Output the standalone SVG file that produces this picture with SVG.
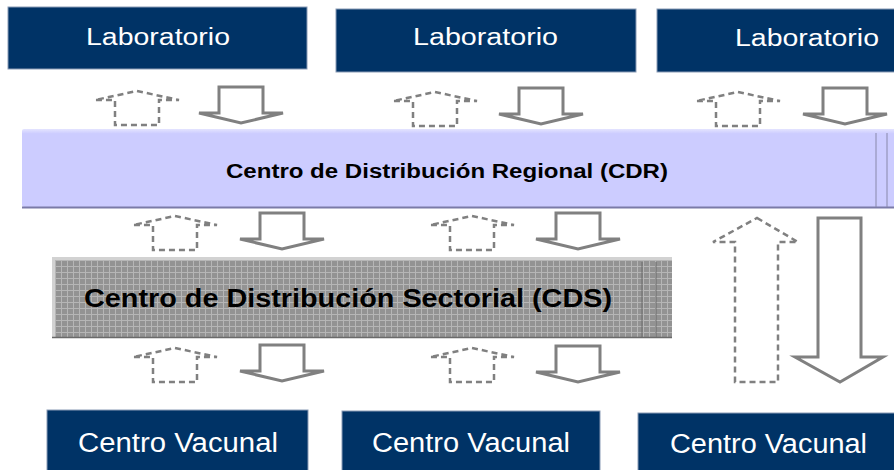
<svg xmlns="http://www.w3.org/2000/svg" width="894" height="470" viewBox="0 0 894 470">
<style>
.box{fill:#003366;stroke:#8a9bb5;stroke-width:1}
.lbl{fill:#ffffff;font-family:"Liberation Sans",Arial,sans-serif;font-size:23px}
.cv{fill:#ffffff;font-family:"Liberation Sans",Arial,sans-serif;font-size:27px}
.bold{fill:#000000;font-family:"Liberation Sans",Arial,sans-serif;font-weight:bold}
.dash{fill:none;stroke:#808080;stroke-width:2.5;stroke-dasharray:6 4}
.solid{fill:none;stroke:#808080;stroke-width:3}
</style>
<defs>
<pattern id="grid" width="6" height="6" patternUnits="userSpaceOnUse" x="55" y="260">
<rect width="6" height="6" fill="#939393"/>
<path d="M0 0.5H6M0.5 0V6" stroke="#b6b6b6" stroke-width="1"/>
</pattern>
<linearGradient id="cdrg" x1="0" y1="0" x2="0" y2="1">
<stop offset="0" stop-color="#e4e4ff"/>
<stop offset="0.06" stop-color="#ccccff"/>
<stop offset="1" stop-color="#ccccff"/>
</linearGradient>
<path id="up" d="M0 0 L42 9 L22 9 L22 34 L-22 34 L-22 9 L-42 9 Z"/>
<path id="down" d="M-22 0 L22 0 L22 26 L42 26 L0 36 L-42 26 L-22 26 Z"/>
</defs>

<g id="lab1"><rect class="box" x="8" y="7" width="299" height="62"/><text class="lbl" x="86" y="45" textLength="144" lengthAdjust="spacingAndGlyphs">Laboratorio</text></g>
<g id="lab2"><rect class="box" x="336" y="9" width="300" height="63"/><text class="lbl" x="413" y="45" textLength="145" lengthAdjust="spacingAndGlyphs">Laboratorio</text></g>
<g id="lab3"><rect class="box" x="657" y="9" width="240" height="63"/><text class="lbl" x="735" y="46" textLength="144" lengthAdjust="spacingAndGlyphs">Laboratorio</text></g>

<g id="cdr">
<rect x="22" y="129" width="875" height="78" rx="2" fill="url(#cdrg)"/>
<line x1="22" y1="207.5" x2="894" y2="207.5" stroke="#7a7aa8" stroke-width="2"/>
<line x1="876" y1="133" x2="876" y2="207" stroke="#8888aa" stroke-width="1"/>
<line x1="887" y1="133" x2="887" y2="207" stroke="#8888aa" stroke-width="1"/>
<text class="bold" x="226" y="178" font-size="20" textLength="442" lengthAdjust="spacingAndGlyphs">Centro de Distribución Regional (CDR)</text>
</g>

<g id="cds">
<rect x="52" y="257" width="620" height="81" fill="#d2d2d2"/>
<rect x="55" y="260" width="617" height="77" fill="url(#grid)"/>
<line x1="52" y1="337.5" x2="672" y2="337.5" stroke="#6a6a6a" stroke-width="1.5"/>
<line x1="642" y1="262" x2="642" y2="337" stroke="#6a6a6a" stroke-width="1"/>
<line x1="656" y1="262" x2="656" y2="337" stroke="#6a6a6a" stroke-width="1"/>
<text class="bold" x="84" y="307" font-size="25" textLength="528" lengthAdjust="spacingAndGlyphs">Centro de Distribución Sectorial (CDS)</text>
</g>

<g id="cv1"><rect class="box" x="47" y="410" width="261" height="64"/><text class="cv" x="78" y="452" textLength="200" lengthAdjust="spacingAndGlyphs">Centro Vacunal</text></g>
<g id="cv2"><rect class="box" x="342" y="411" width="258" height="63"/><text class="cv" x="372" y="452" textLength="198" lengthAdjust="spacingAndGlyphs">Centro Vacunal</text></g>
<g id="cv3"><rect class="box" x="638" y="413" width="260" height="61"/><text class="cv" x="670" y="453" textLength="197" lengthAdjust="spacingAndGlyphs">Centro Vacunal</text></g>

<g id="connectors">
<use href="#up" class="dash" x="137" y="91"/>
<use href="#down" class="solid" x="241" y="87"/>
<use href="#up" class="dash" x="435" y="92"/>
<use href="#down" class="solid" x="541" y="88"/>
<use href="#up" class="dash" x="738" y="92"/>
<use href="#down" class="solid" x="845" y="88"/>

<use href="#up" class="dash" x="175" y="216"/>
<use href="#down" class="solid" x="282" y="213"/>
<use href="#up" class="dash" x="472" y="216"/>
<use href="#down" class="solid" x="578" y="213"/>

<use href="#up" class="dash" x="175" y="348"/>
<use href="#down" class="solid" x="282" y="345"/>
<use href="#up" class="dash" x="472" y="348"/>
<use href="#down" class="solid" x="578" y="346"/>

<path class="dash" d="M757 218 L798 242 L778 242 L778 382 L735 382 L735 242 L713 242 Z"/>
<path class="solid" d="M818 218 L861 218 L861 357 L883 357 L840 382 L795 357 L818 357 Z"/>
</g>
</svg>
